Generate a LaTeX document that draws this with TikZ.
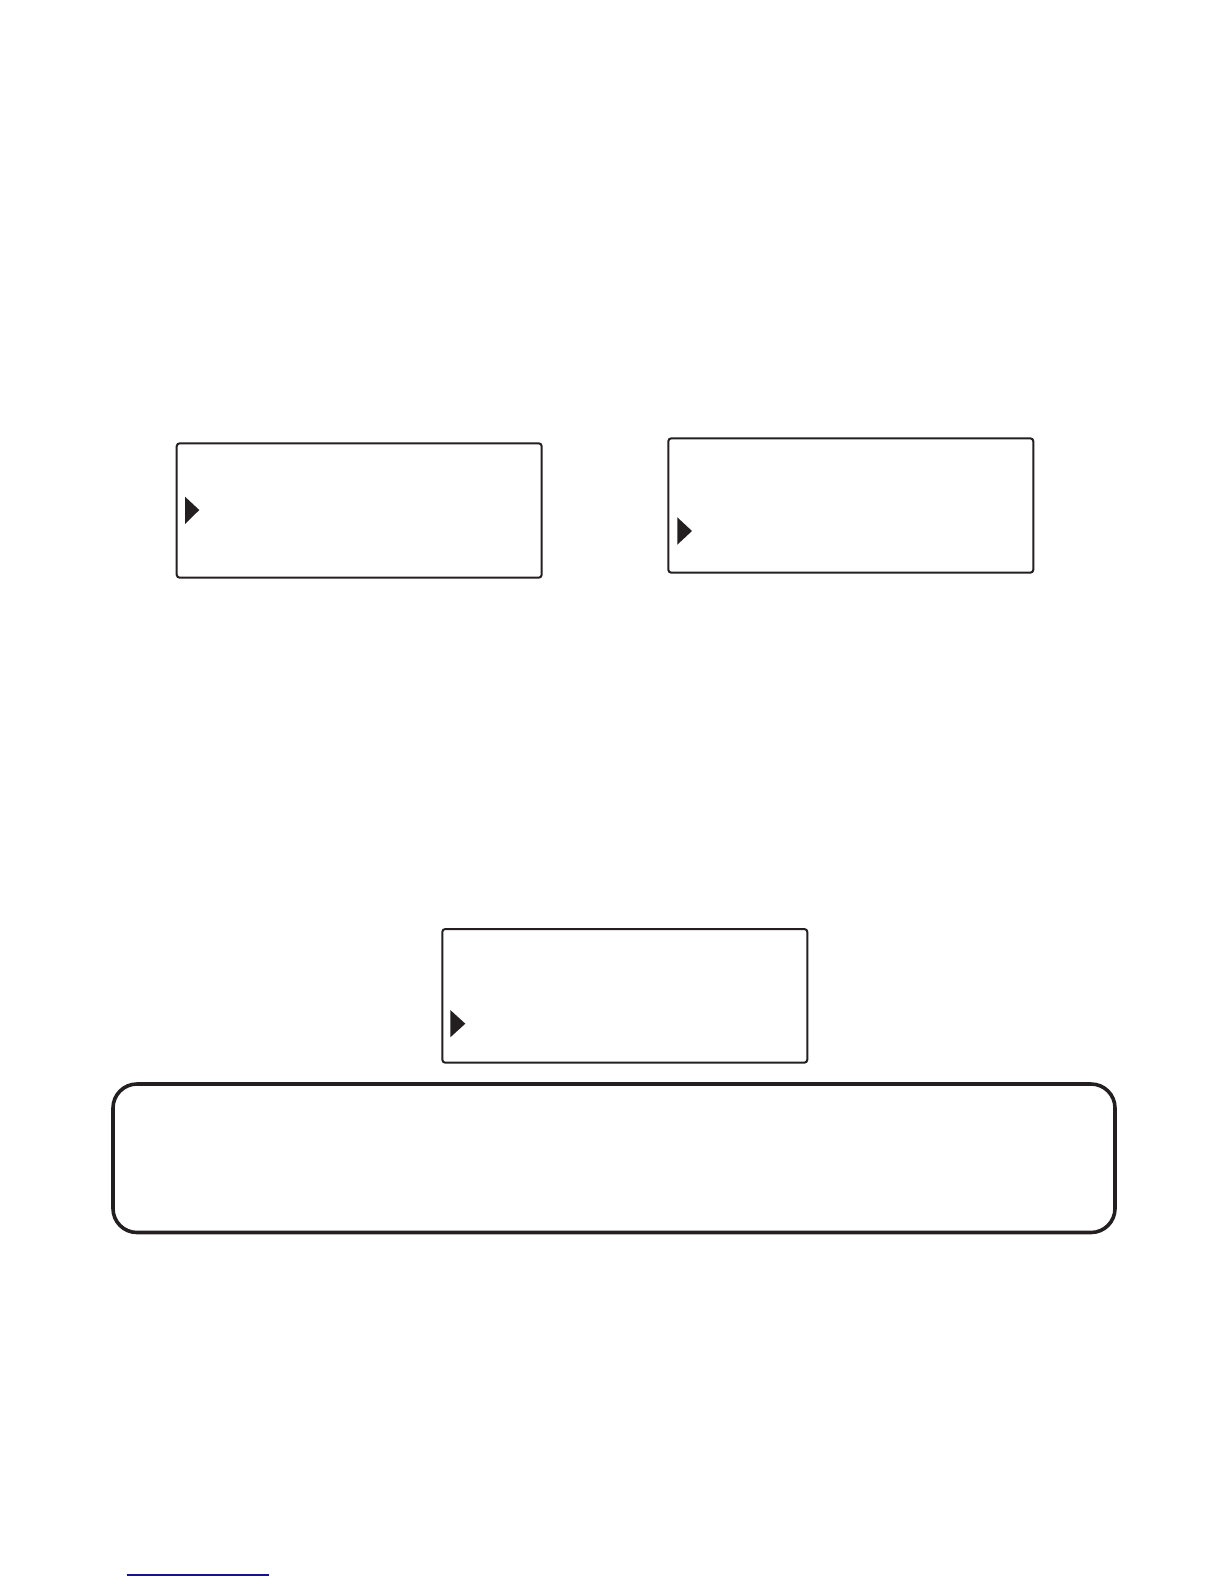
\documentclass[tikz,border=0pt]{standalone}
\begin{document}
\begin{tikzpicture}[x=0.5pt,y=-0.5pt,
  ink/.style={color={rgb,255:red,35;green,31;blue,32}},
  screen/.style={ink,draw,line width=1pt,rounded corners=1.5pt},
  cursor/.style={ink,fill},
  panel/.style={ink,draw,line width=1.8pt,rounded corners=12pt}]
\useasboundingbox (0,0) rectangle (1224,1584);
% screen boxes
\draw[screen] (176.7,443.3) rectangle (541.7,577.7);
\fill[cursor] (185,496.7) -- (199.3,510) -- (185,524) -- cycle;
\draw[screen] (668.3,438.3) rectangle (1033.3,572.7);
\fill[cursor] (677.3,517.3) -- (692,531) -- (677.3,544.7) -- cycle;
\draw[screen] (442.3,929) rectangle (807.3,1062.7);
\fill[cursor] (450.3,1010) -- (465.3,1023.7) -- (450.3,1037.3) -- cycle;
% panel
\draw[panel] (113,1084) rectangle (1115,1232.5);
% footer line
\draw[color={rgb,255:red,20;green,20;blue,140},line width=0.6pt] (126.7,1575) -- (269,1575);
\end{tikzpicture}
\end{document}
